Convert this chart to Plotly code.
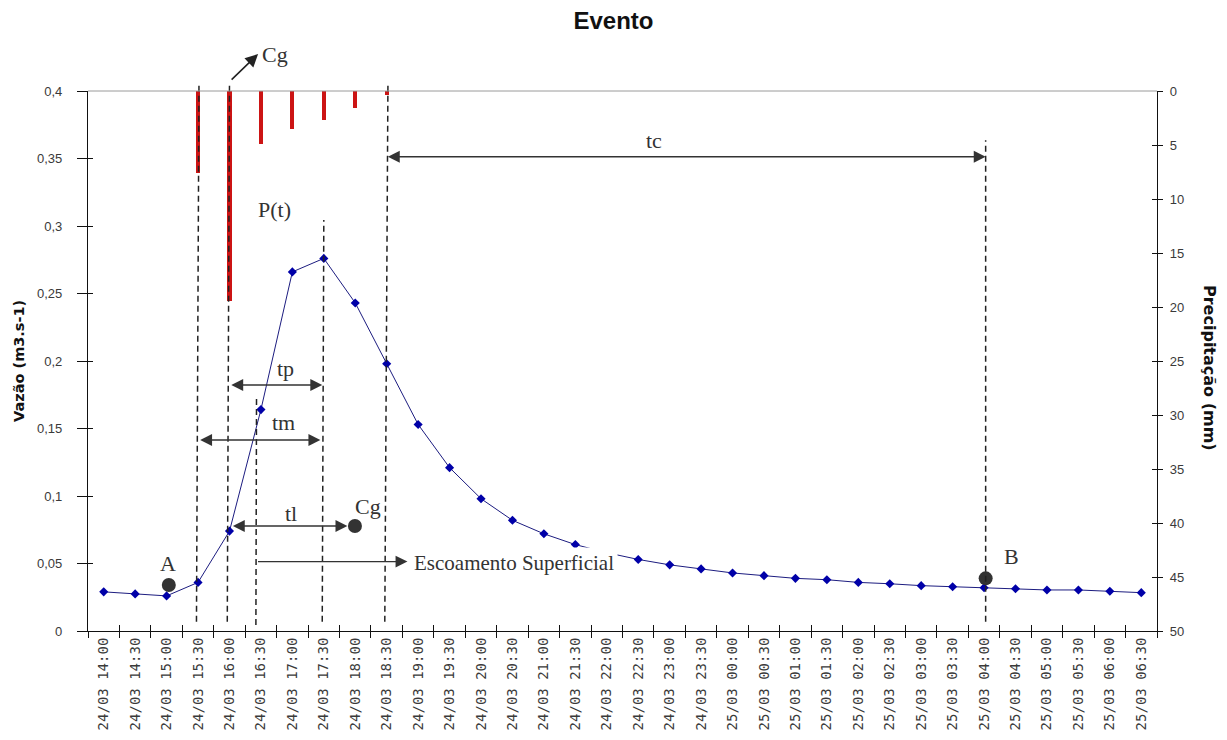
import plotly.graph_objects as go

# ---------------- data ----------------
times = [
    "24/03 14:00", "24/03 14:30", "24/03 15:00", "24/03 15:30", "24/03 16:00",
    "24/03 16:30", "24/03 17:00", "24/03 17:30", "24/03 18:00", "24/03 18:30",
    "24/03 19:00", "24/03 19:30", "24/03 20:00", "24/03 20:30", "24/03 21:00",
    "24/03 21:30", "24/03 22:00", "24/03 22:30", "24/03 23:00", "24/03 23:30",
    "25/03 00:00", "25/03 00:30", "25/03 01:00", "25/03 01:30", "25/03 02:00",
    "25/03 02:30", "25/03 03:00", "25/03 03:30", "25/03 04:00", "25/03 04:30",
    "25/03 05:00", "25/03 05:30", "25/03 06:00", "25/03 06:30",
]
vazao = [
    0.029, 0.0275, 0.026, 0.036, 0.074, 0.164, 0.266, 0.276, 0.243, 0.198,
    0.153, 0.121, 0.098, 0.082, 0.072, 0.064, 0.058, 0.053, 0.049, 0.046,
    0.043, 0.041, 0.039, 0.038, 0.036, 0.035, 0.0336, 0.0328, 0.0321, 0.0313,
    0.0304, 0.0304, 0.0294, 0.0284,
]
precip_times = ["24/03 15:30", "24/03 16:00", "24/03 16:30", "24/03 17:00",
                "24/03 17:30", "24/03 18:00", "24/03 18:30"]
precip_mm = [7.6, 19.4, 4.9, 3.55, 2.7, 1.6, 0.4]

y_left_ticks = [0, 0.05, 0.1, 0.15, 0.2, 0.25, 0.3, 0.35, 0.4]
y_left_text = ["0", "0,05", "0,1", "0,15", "0,2", "0,25", "0,3", "0,35", "0,4"]
y_right_ticks = [0, 5, 10, 15, 20, 25, 30, 35, 40, 45, 50]
y_right_text = ["0", "5", "10", "15", "20", "25", "30", "35", "40", "45", "50"]

# ---------------- annotation geometry (category index / value units) -------
# vertical dashed guides: (x_bottom, x_top, y_bottom_paper, y_top_paper)
guides = [
    (2.95, 3.03, 0.017, 1.017),
    (3.93, 4.00, 0.017, 1.017),
    (4.84, 4.86, 0.011, 0.432),
    (6.95, 7.00, 0.017, 0.761),
    (8.94, 9.04, 0.017, 1.017),
    (28.05, 28.05, 0.017, 0.909),
]
# horizontal arrows: (x_start, x_end, y, double_headed)
arrows = [
    (8.99, 28.05, 0.3513, True),   # tc
    (4.01, 6.95, 0.1822, True),    # tp
    (3.02, 6.89, 0.1415, True),    # tm
    (4.06, 7.75, 0.0778, True),    # tl
    (4.86, 9.66, 0.0514, False),   # escoamento
]
labels = [
    ("tc", 17.51, 0.3637), ("P(t)", 5.42, 0.312), ("tp", 5.78, 0.1946),
    ("tm", 5.73, 0.1543), ("tl", 5.95, 0.0872), ("Cg", 8.39, 0.0921),
    ("A", 2.03, 0.0501), ("B", 28.87, 0.055),
]
dots_x = [2.07, 7.99, 28.05]
dots_y = [0.0341, 0.0778, 0.039]

ncat = len(times)
serif = "Liberation Serif, Times New Roman, serif"
sans = "Liberation Sans, Arial, sans-serif"

fig = go.Figure()
fig.add_trace(go.Bar(
    x=precip_times, y=precip_mm, yaxis="y2", width=0.13,
    marker=dict(color="#cc1414", line=dict(width=0)), showlegend=False,
))
fig.add_trace(go.Scatter(
    x=times, y=vazao, mode="lines+markers",
    line=dict(color="#1c1c80", width=1),
    marker=dict(symbol="diamond", size=7, color="#0000a8"),
    showlegend=False,
))
fig.add_trace(go.Scatter(
    x=dots_x, y=dots_y, xaxis="x2", mode="markers",
    marker=dict(size=14, color="#333333"), showlegend=False,
))

shapes = []
for xb, xt, yb, yt in guides:
    shapes.append(dict(type="line", xref="x2", yref="paper", x0=xb, x1=xt, y0=yb, y1=yt,
                       line=dict(color="#222222", width=1.5, dash="6px,4px")))
shapes.append(dict(type="line", xref="paper", yref="paper", x0=0, x1=1, y0=1, y1=1,
                   line=dict(color="#9a9a9a", width=1)))

annotations = []
for x0, x1, y, both in arrows:
    annotations.append(dict(
        x=x1, y=y, ax=x0, ay=y, xref="x2", yref="y", axref="x2", ayref="y",
        text="", showarrow=True, arrowhead=2, arrowsize=1.7, arrowwidth=1.4,
        arrowcolor="#333333", arrowside="end+start" if both else "end",
        startarrowhead=2, startarrowsize=1.7, standoff=0, startstandoff=0,
    ))
# Cg arrow at top
annotations.append(dict(
    x=4.91, y=1.0685, xref="x2", yref="paper", ax=-28, ay=27, text="",
    showarrow=True, arrowhead=2, arrowsize=1.6, arrowwidth=1.6, arrowcolor="#222222",
    standoff=0,
))
annotations.append(dict(
    x=5.45, y=1.0667, xref="x2", yref="paper", text="Cg", showarrow=False,
    xanchor="center", yanchor="middle",
    font=dict(family=serif, size=22, color="#333333"),
))
for txt, lx, ly in labels:
    annotations.append(dict(x=lx, y=ly, xref="x2", yref="y", text=txt, showarrow=False,
                            xanchor="center", yanchor="middle",
                            font=dict(family=serif, size=22, color="#333333")))
annotations.append(dict(
    x=9.74, y=0.0501, xref="x2", yref="y", text="Escoamento Superficial",
    showarrow=False, xanchor="left", yanchor="middle", bgcolor="white", borderpad=3,
    font=dict(family=serif, size=21, color="#333333"),
))
# axis titles
annotations.append(dict(
    x=-0.0646, y=0.5, xref="paper", yref="paper", text="<b>Vazão (m3.s-1)</b>",
    textangle=-90, showarrow=False, xanchor="center", yanchor="middle",
    font=dict(family="DejaVu Sans", size=14.5, color="#111111"),
))
annotations.append(dict(
    x=1.0496, y=0.487, xref="paper", yref="paper", text="<b>Precipitação (mm)</b>",
    textangle=90, showarrow=False, xanchor="center", yanchor="middle",
    font=dict(family="DejaVu Sans", size=16, color="#111111"),
))

fig.update_layout(
    width=1227, height=740,
    margin=dict(l=88, r=70, t=91, b=109, autoexpand=False),
    paper_bgcolor="white", plot_bgcolor="white",
    title=dict(text="<b>Evento</b>", x=0.5, xanchor="center", y=0.972, yanchor="middle",
               font=dict(family=sans, size=24, color="#111111")),
    xaxis=dict(
        type="category", categoryorder="array", categoryarray=times,
        range=[-0.5, ncat - 0.5], tickson="boundaries", ticks="outside", ticklen=6,
        tickcolor="#111111", tickwidth=1, showline=True, linecolor="#111111", linewidth=1.2,
        tickangle=-90, showgrid=False, zeroline=False, automargin=False,
        tickfont=dict(family="DejaVu Sans Mono", size=14, color="#3a3a3a"),
    ),
    xaxis2=dict(
        overlaying="x", anchor="y", type="linear", range=[-0.5, ncat - 0.5],
        tick0=-0.5, dtick=1, ticks="inside", ticklen=6, tickcolor="#111111",
        showticklabels=False, showgrid=False, zeroline=False, showline=False,
        automargin=False,
    ),
    yaxis=dict(
        range=[0, 0.4], tickvals=y_left_ticks, ticktext=y_left_text,
        ticks="outside", ticklen=10, tickcolor="#111111", showline=True,
        linecolor="#111111", linewidth=1.2, showgrid=False, zeroline=False,
        ticklabelstandoff=12, automargin=False,
        tickfont=dict(family=sans, size=13, color="#3a3a3a"),
    ),
    yaxis2=dict(
        overlaying="y", side="right", anchor="x", range=[50, 0],
        tickvals=y_right_ticks, ticktext=y_right_text, ticks="outside", ticklen=5,
        tickcolor="#111111", showline=True, linecolor="#111111", linewidth=1.2,
        showgrid=False, zeroline=False, automargin=False, ticklabelstandoff=4,
        tickfont=dict(family=sans, size=13, color="#3a3a3a"),
    ),
    yaxis3=dict(
        overlaying="y", side="left", anchor="x", range=[0, 0.4], tickvals=y_left_ticks,
        ticks="inside", ticklen=5, tickcolor="#111111", showticklabels=False,
        showgrid=False, zeroline=False, showline=False, automargin=False,
    ),
    yaxis4=dict(
        overlaying="y", side="right", anchor="x", range=[50, 0], tickvals=y_right_ticks,
        ticks="inside", ticklen=5, tickcolor="#111111", showticklabels=False,
        showgrid=False, zeroline=False, showline=False, automargin=False,
    ),
    shapes=shapes, annotations=annotations, bargap=0,
)
# invisible carriers so the cross-tick axes are drawn
fig.add_trace(go.Scatter(x=[0], y=[0], xaxis="x2", yaxis="y3", mode="markers",
                         marker=dict(opacity=0), hoverinfo="skip", showlegend=False))
fig.add_trace(go.Scatter(x=[0], y=[0], xaxis="x2", yaxis="y4", mode="markers",
                         marker=dict(opacity=0), hoverinfo="skip", showlegend=False))

fig.write_html(
    "out.html",
    config={"displayModeBar": False},
    post_script="document.body.style.margin='0';document.body.style.overflow='hidden';",
)
